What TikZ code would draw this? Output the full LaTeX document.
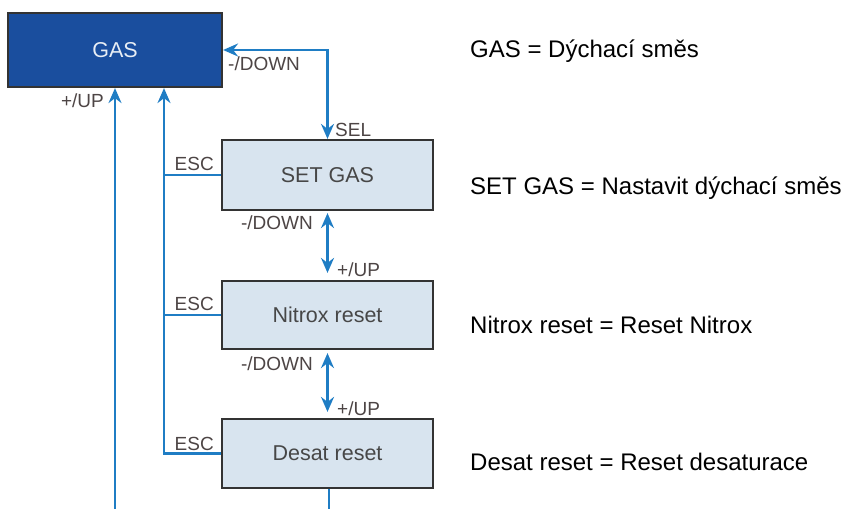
\documentclass[tikz,border=0pt]{standalone}
\usepackage{fontspec}
\setmainfont{Liberation Sans}
\usetikzlibrary{arrows.meta}
\definecolor{gasblue}{HTML}{1A4E9E}
\definecolor{boxfill}{HTML}{D8E4EF}
\definecolor{boxline}{HTML}{333333}
\definecolor{linkblue}{HTML}{1F7DC4}
\definecolor{lbl}{HTML}{4D4545}
\definecolor{gastext}{HTML}{E8EEF5}
\tikzset{
  tipshape/.tip={Stealth[length=15pt,width=13pt,inset=5pt]},
  menubox/.style={draw=boxline, line width=2.2pt, fill=boxfill, minimum width=211pt, inner sep=0pt,
    font=\fontsize{21.5}{24}\selectfont, text=boxline!90},
  link/.style={draw=linkblue, line width=2.3pt, -tipshape},
  dlink/.style={draw=linkblue, line width=2.3pt, tipshape-tipshape},
  plain/.style={draw=linkblue, line width=2.3pt},
  keylbl/.style={font=\fontsize{19}{22}\selectfont, text=lbl, inner sep=0pt},
  note/.style={font=\fontsize{24}{28}\selectfont, text=black, inner sep=0pt, anchor=base west}
}
\begin{document}
\begin{tikzpicture}[x=1pt,y=-1pt]
\useasboundingbox (0,0) rectangle (844,509);
% boxes
\node[draw=boxline, line width=2.2pt, fill=gasblue, minimum width=214pt, minimum height=74pt, inner sep=0pt,
      font=\fontsize{21.5}{24}\selectfont, text=gastext] (gas) at (115,50) {GAS};
\node[menubox, minimum height=70pt] (setgas) at (327.5,175) {SET GAS};
\node[menubox, minimum height=68pt] (nitrox) at (327.5,315) {Nitrox reset};
\node[menubox, minimum height=69pt] (desat) at (327.5,453.5) {Desat reset};
% helper coordinates
\coordinate (escx) at (164,0);
\coordinate (bot1) at (115,509);
\coordinate (bot2) at (329,509);
% connectors
\draw[dlink] (gas.east) -| (setgas.north);
\draw[link] (bot1) -- (gas.south);
\draw[link] (desat.west) -| (escx |- gas.south);
\draw[plain] (setgas.west) -- (escx |- setgas.west);
\draw[plain] (nitrox.west) -- (escx |- nitrox.west);
\draw[dlink, shorten <=2pt, shorten >=7pt] (setgas.south) -- (nitrox.north);
\draw[dlink, shorten <=3pt, shorten >=6pt] (nitrox.south) -- (desat.north);
\draw[plain] (desat.south -| bot2) -- (bot2);
% key labels
\node[keylbl, anchor=base west] (l1) at (228,70) {-/DOWN};
\node[keylbl, anchor=base west] (l2) at (335,136) {SEL};
\node[keylbl, anchor=base east] (l3) at (104,107) {+/UP};
\node[keylbl, anchor=base east] (l4) at (214,170) {ESC};
\node[keylbl, anchor=base east] (l5) at (214,310) {ESC};
\node[keylbl, anchor=base east] (l6) at (214,450) {ESC};
\node[keylbl, anchor=base east] (l7) at (313,229) {-/DOWN};
\node[keylbl, anchor=base west] (l8) at (337,276) {+/UP};
\node[keylbl, anchor=base east] (l9) at (313,370) {-/DOWN};
\node[keylbl, anchor=base west] (l10) at (337,415) {+/UP};
% notes
\node[note] (n1) at (470,57) {GAS = Dýchací směs};
\node[note] (n2) at (470,194) {SET GAS = Nastavit dýchací směs};
\node[note] (n3) at (470,333) {Nitrox reset = Reset Nitrox};
\node[note] (n4) at (470,470) {Desat reset = Reset desaturace};
\end{tikzpicture}
\end{document}
